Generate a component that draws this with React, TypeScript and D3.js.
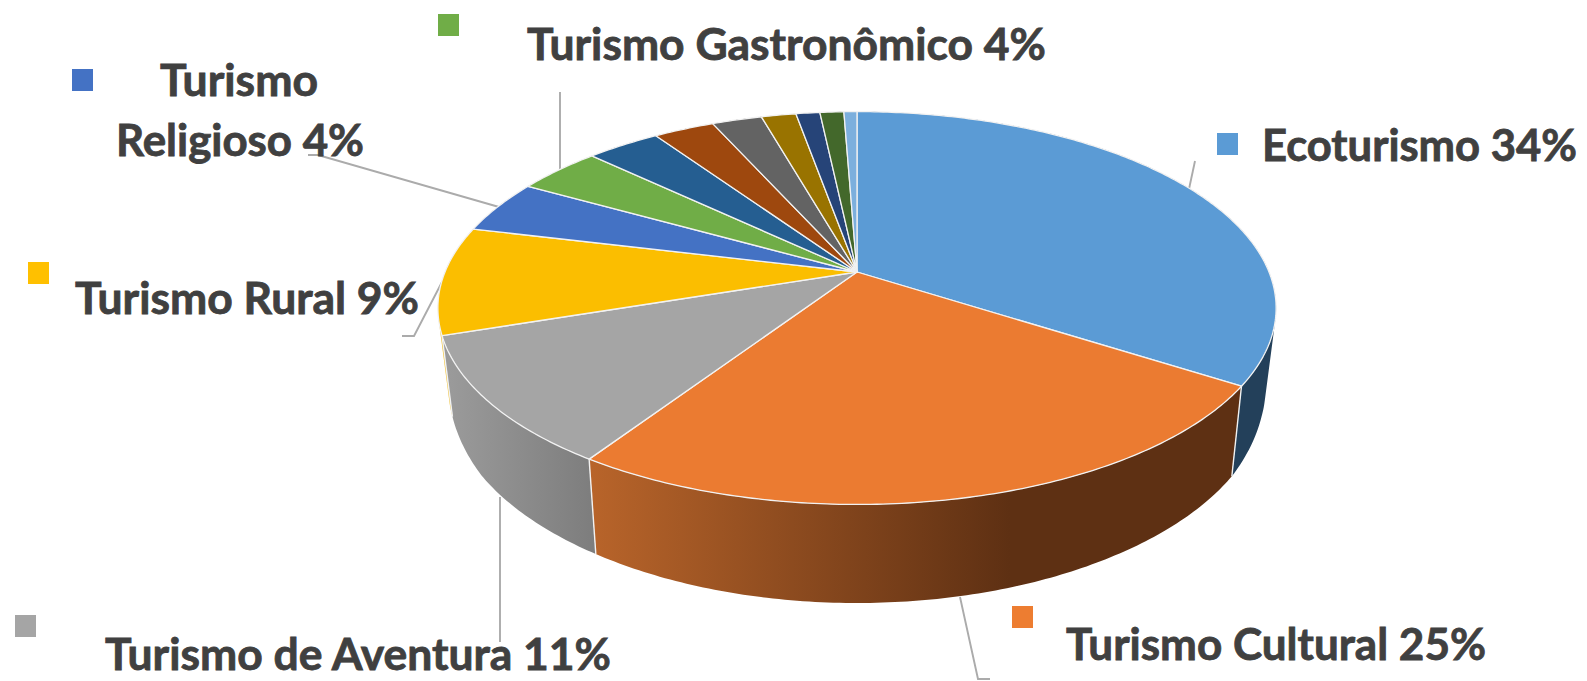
import { useRef, useEffect } from 'react';
import * as d3 from 'd3';

// values, in drawing order from 12 o'clock
const categories = [
  'Ecoturismo', 'Turismo Cultural', 'Turismo de Aventura', 'Turismo Rural',
  'Turismo Religioso', 'Turismo Gastronômico', 'Outro 1', 'Outro 2', 'Outro 3',
  'Outro 4', 'Outro 5', 'Outro 6', 'Outro 7',
];
const shares = [34.1, 25.15, 10.6, 8.9, 4.4, 3.9, 3.4, 2.8, 2.3, 1.6, 1.1, 1.1, 0.6];
const topColors = [
  '#5B9BD5', '#EB7B31', '#A5A5A5', '#FBBE00', '#4472C4', '#70AD47', '#255E91',
  '#9E480E', '#636363', '#997300', '#264478', '#43682B', '#7CAFDD',
];
const sideFrom = ['#23405A', '#B8642A', '#9A9A9A', '#F0C030', '#2A4A80', '#4A7530', '#1A4060', '#6A3008', '#444444', '#665000', '#1A2D50', '#2D461D', '#5A8AB5'];
const sideTo = ['#23405A', '#5E3013', '#7C7C7C', '#F0C030', '#2A4A80', '#4A7530', '#1A4060', '#6A3008', '#444444', '#665000', '#1A2D50', '#2D461D', '#5A8AB5'];

// label text, line by line, with the box each line has to fill
const labels = [
  { color: '#5B9BD5', square: [1217, 133], lines: [{ text: 'Ecoturismo 34%', x: 1262, y: 160.5, w: 315 }] },
  { color: '#ED7D31', square: [1012, 606], lines: [{ text: 'Turismo Cultural 25%', x: 1066, y: 659.5, w: 420 }] },
  { color: '#A5A5A5', square: [15, 615], lines: [{ text: 'Turismo de Aventura 11%', x: 105, y: 669.5, w: 506 }] },
  { color: '#FFC000', square: [28, 262], lines: [{ text: 'Turismo Rural 9%', x: 75, y: 313.5, w: 344 }] },
  {
    color: '#4472C4', square: [72, 69], lines: [
      { text: 'Turismo', x: 160, y: 96, w: 158 },
      { text: 'Religioso 4%', x: 116, y: 155.5, w: 248 },
    ],
  },
  { color: '#70AD47', square: [438, 14], lines: [{ text: 'Turismo Gastronômico 4%', x: 527, y: 60, w: 519 }] },
];
const leaders = [
  [[1195, 161], [1189, 189]],
  [[960, 597], [978, 679], [990, 679]],
  [[500, 497], [500, 642]],
  [[442, 282], [414, 336], [402, 336]],
  [[499, 207], [318, 155], [308, 155]],
  [[560, 92], [560, 169]],
];

const W = 1587;
const H = 681;
const CX = 857;
const CY = 272;
// perspective of the pie's top face
const A = 412;
const B = 189.8;
const K = 0.1835;
const SHRINK = 0.975;

function topPoint(angle: number, r = 1): [number, number] {
  const u = Math.sin(angle) * r;
  const v = Math.cos(angle) * r;
  const w = 1 + K * v;
  return [CX + (A * u) / w, CY - (B * v) / w];
}

// the same rim point on the bottom face
const depth = d3.scaleLinear().domain([300, 336, 386, 460, 504]).range([78, 81, 90, 95, 98.5]);
function bottomPoint(p: [number, number]): [number, number] {
  return [CX + (p[0] - CX) * SHRINK, p[1] + depth(p[1])];
}

export default function App() {
  const ref = useRef<SVGSVGElement>(null);

  useEffect(() => {
    const svg = d3.select(ref.current);
    svg.selectAll('*').remove();

    const arcs = d3.pie<number>().sort(null).value(d => d)(shares);
    const line = d3.line();
    const rim = (a: any) => {
      const n = Math.max(4, Math.ceil((a.endAngle - a.startAngle) * 80));
      return d3.range(n + 1).map(i => topPoint(a.startAngle + ((a.endAngle - a.startAngle) * i) / n));
    };

    const defs = svg.append('defs');
    arcs.forEach((a, i) => {
      const g = defs.append('linearGradient')
        .attr('id', `side${i}`)
        .attr('gradientUnits', 'userSpaceOnUse')
        .attr('x1', i === 1 ? 592 : 450).attr('x2', i === 1 ? 1010 : 600)
        .attr('y1', 0).attr('y2', 0);
      g.append('stop').attr('offset', 0).attr('stop-color', sideFrom[i]);
      g.append('stop').attr('offset', 1).attr('stop-color', sideTo[i]);
    });

    // Leader lines sit behind the pie
    svg.append('g').selectAll('path').data(leaders).enter().append('path')
      .attr('d', d => line(d as [number, number][]))
      .attr('fill', 'none')
      .attr('stroke', '#ABABAB')
      .attr('stroke-width', 1.9);

    // Side wall: thin quads per rim step, all in one path so no seams show
    const sides = svg.append('g');
    d3.range(arcs.length - 1, -1, -1).forEach(i => {
      const pts = rim(arcs[i]);
      const d = d3.pairs(pts)
        .map(([p, q]) => {
          // keep every quad wound the same way
          const quad = [p, q, bottomPoint(q), bottomPoint(p)] as [number, number][];
          return line(d3.polygonArea(quad) < 0 ? quad.reverse() : quad) + 'Z';
        })
        .join('');
      sides.append('path').attr('d', d).attr('fill', `url(#side${i})`);
    });
    // seams between walls
    arcs.slice(0, 3).forEach(a => {
      const p = topPoint(a.endAngle);
      sides.append('path')
        .attr('d', line([p, bottomPoint(p)]))
        .attr('stroke', '#F2F2F2')
        .attr('stroke-width', 1.4);
    });

    // Top face
    svg.append('g').selectAll('path').data(arcs).enter().append('path')
      .attr('d', a => line([[CX, CY], ...rim(a)]) + 'Z')
      .attr('fill', (_, i) => topColors[i])
      .attr('stroke', '#F2F2F2')
      .attr('stroke-width', 1.3)
      .attr('stroke-linejoin', 'round')
      .append('title').text((_, i) => categories[i]);

    // Legend squares and labels
    const lab = svg.append('g').selectAll('g').data(labels).enter().append('g');
    lab.append('rect')
      .attr('x', d => d.square[0]).attr('y', d => d.square[1])
      .attr('width', 21).attr('height', 22)
      .attr('fill', d => d.color);
    lab.selectAll('text').data(d => d.lines).enter().append('text')
      .attr('x', d => d.x).attr('y', d => d.y)
      .attr('textLength', d => d.w)
      .attr('lengthAdjust', 'spacingAndGlyphs')
      .attr('fill', '#404040')
      .attr('stroke', '#404040')
      .attr('stroke-width', 0.8)
      .style('font-family', 'Lato, sans-serif')
      .style('font-weight', 700)
      .style('font-size', '43px')
      .text(d => d.text);
  }, []);

  return (
    <svg ref={ref} width={W} height={H}
      style={{ position: 'fixed', left: 0, top: 0, background: '#fff', display: 'block' }} />
  );
}
